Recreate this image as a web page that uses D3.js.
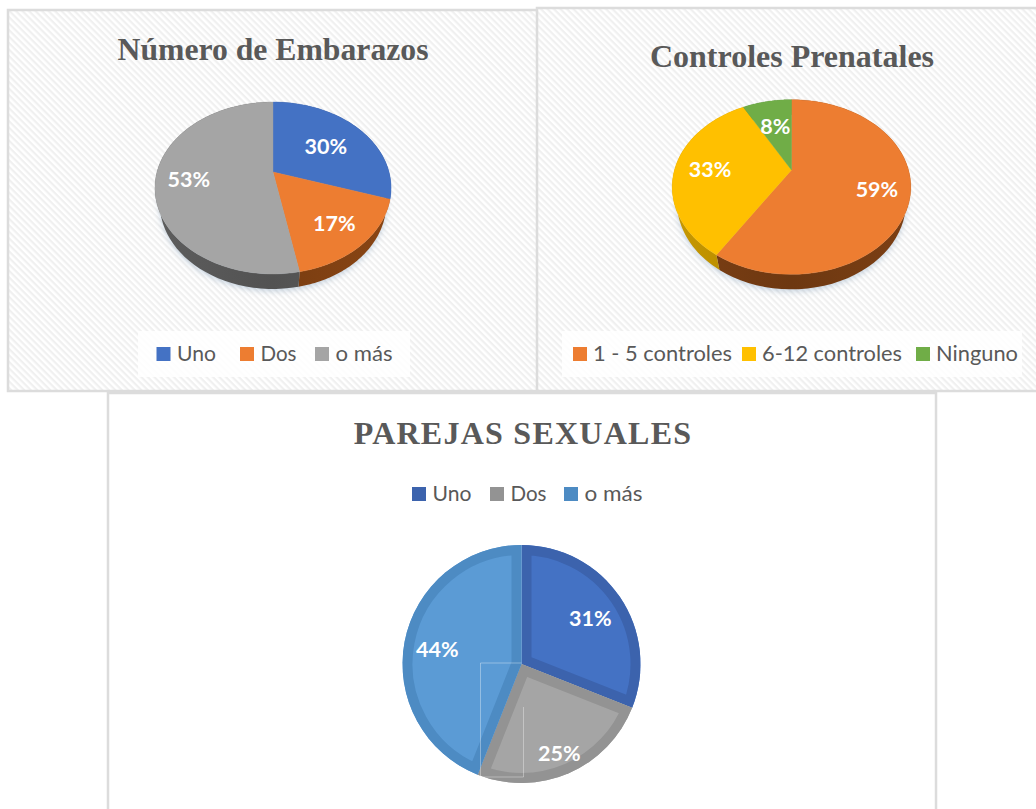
<!DOCTYPE html>
<html lang="es">
<head>
<meta charset="utf-8">
<script src="https://cdn.jsdelivr.net/npm/d3@7"></script>
<style>
html,body{margin:0;padding:0;background:#fff;overflow:hidden}
svg{display:block}
</style>
</head>
<body>
<svg id="c" width="1036" height="809"></svg>
<script>
// ---- data ----
const embarazosLabels = ["Uno", "Dos", "o más"];
const embarazosValues = [30, 17, 53];
const controlesLabels = ["1 - 5 controles", "6-12 controles", "Ninguno"];
const controlesValues = [59, 33, 8];
const parejasLabels = ["Uno", "Dos", "o más"];
const parejasValues = [31, 25, 44];

const embarazosColors = ["#4472c4", "#ed7d31", "#a5a5a5"];
const embarazosSides  = ["#2b4a80", "#7d3f12", "#555555"];
const controlesColors = ["#ed7d31", "#ffc000", "#70ad47"];
const controlesSides  = ["#713a12", "#b58a00", "#4a7a2e"];
const parejasColors   = ["#4472c4", "#a5a5a5", "#5b9bd5"];
const parejasBevels   = ["#3c63ad", "#939393", "#4d8bc3"];

const svg = d3.select("#c");
const defs = svg.append("defs");
const TAU = Math.PI * 2;

// diagonal hatch background
const hatch = defs.append("pattern").attr("id", "hatch")
  .attr("patternUnits", "userSpaceOnUse").attr("width", 4.6).attr("height", 4.6)
  .attr("patternTransform", "rotate(45)");
hatch.append("rect").attr("width", 4.6).attr("height", 4.6).attr("fill", "#ffffff");
hatch.append("rect").attr("width", 4.6).attr("height", 2.2).attr("fill", "#f0f0f0");

const blur = defs.append("filter").attr("id", "soft")
  .attr("x", "-20%").attr("y", "-20%").attr("width", "140%").attr("height", "140%");
blur.append("feGaussianBlur").attr("stdDeviation", 3);

function panel(x, y, w, h, fill) {
  svg.append("rect").attr("x", x).attr("y", y).attr("width", w).attr("height", h)
    .attr("fill", fill).attr("stroke", "#dcdcdc").attr("stroke-width", 2.5);
}

function title(text, x, y, size, spacing) {
  svg.append("text").attr("x", x).attr("y", y).attr("text-anchor", "middle")
    .attr("font-family", "'Liberation Serif', serif").attr("font-weight", 700)
    .attr("font-size", size).attr("letter-spacing", spacing || 0)
    .attr("fill", "#595959").text(text);
}

function legend(cfg) {
  if (cfg.box) {
    svg.append("rect").attr("x", cfg.box[0]).attr("y", cfg.box[1])
      .attr("width", cfg.box[2]).attr("height", cfg.box[3]).attr("fill", "#ffffff").attr("fill-opacity", 0.85);
  }
  const g = svg.append("g").selectAll("g").data(cfg.labels).join("g")
    .attr("transform", (d, i) => `translate(${cfg.xs[i]},${cfg.y})`);
  g.append("rect").attr("x", 0).attr("y", -14).attr("width", 14).attr("height", 14)
    .attr("fill", (d, i) => cfg.colors[i]);
  g.append("text").attr("x", cfg.gap).attr("y", 0)
    .attr("font-family", "Lato, sans-serif").attr("font-size", cfg.size)
    .attr("fill", "#595959")
    .attr("textLength", (d, i) => cfg.widths[i]).attr("lengthAdjust", "spacingAndGlyphs")
    .text(d => d);
}

function label(text, x, y) {
  svg.append("text").attr("x", x).attr("y", y).attr("text-anchor", "middle").attr("dy", "0.43em")
    .attr("font-family", "Lato, sans-serif").attr("font-weight", 700).attr("font-size", 21.5)
    .attr("fill", "#fff").text(text);
}

const pieGen = d3.pie().sort(null).startAngle(0).endAngle(TAU);

// perspective pie: the disc is tilted, so its centre sits above the middle of the ellipse
function pie3d(cfg) {
  const { values, colors, sides, cx, cy, sx, sy, k, depth, shrink, radii } = cfg;
  const project = (a, r = 1) => {
    const u = r * Math.sin(a), v = -r * Math.cos(a), w = 1 - k * v;
    return [cx + sx * u / w, cy + sy * v / w];
  };
  const bottom = a => {
    const p = project(a);
    return [cx + (p[0] - cx) * shrink, p[1] + depth];
  };
  const line = d3.line();
  const sweep = (a0, a1, f) => d3.range(0, 61).map(i => f(a0 + (a1 - a0) * i / 60));
  const arcs = pieGen(values);

  // soft shadow
  svg.append("path")
    .attr("d", line(sweep(0, TAU, a => { const p = bottom(a); return [p[0], p[1] + 2]; })) + "Z")
    .attr("fill", "#6f8fb0").attr("fill-opacity", 0.4).attr("filter", "url(#soft)");

  // side wall
  arcs.forEach((d, i) => {
    const grad = "g" + cfg.id + i;
    const lg = defs.append("linearGradient").attr("id", grad)
      .attr("gradientUnits", "userSpaceOnUse")
      .attr("x1", cx - sx).attr("x2", cx + sx).attr("y1", 0).attr("y2", 0);
    const base = d3.color(sides[i]);
    lg.append("stop").attr("offset", 0).attr("stop-color", base.brighter(0.25));
    lg.append("stop").attr("offset", 0.5).attr("stop-color", base.darker(0.1));
    lg.append("stop").attr("offset", 1).attr("stop-color", base.brighter(0.25));
    const pts = sweep(d.startAngle, d.endAngle, project)
      .concat(sweep(d.startAngle, d.endAngle, bottom).reverse());
    svg.append("path").attr("d", line(pts) + "Z").attr("fill", `url(#${grad})`);
  });

  // top face
  arcs.forEach((d, i) => {
    const pts = [[cx, cy]].concat(sweep(d.startAngle, d.endAngle, project));
    svg.append("path").attr("d", line(pts) + "Z").attr("fill", colors[i])
      .attr("stroke", colors[i]).attr("stroke-width", 0.4);
  });

  arcs.forEach((d, i) => {
    const p = project((d.startAngle + d.endAngle) / 2, radii[i]);
    label(d3.format(".0f")(d.value) + "%", p[0], p[1]);
  });
}

// flat pie with bevelled slices
function pieFlat(cfg) {
  const { values, colors, bevels, cx, cy, r, radii } = cfg;
  const arc = d3.arc().innerRadius(0).outerRadius(r);
  const g = svg.append("g").attr("transform", `translate(${cx},${cy})`);
  pieGen(values).forEach((d, i) => {
    const clip = "clip" + i;
    defs.append("clipPath").attr("id", clip).append("path").attr("d", arc(d));
    g.append("path").attr("d", arc(d)).attr("fill", colors[i]);
    g.append("path").attr("d", arc(d)).attr("fill", "none")
      .attr("stroke", bevels[i]).attr("stroke-width", 20)
      .attr("stroke-linejoin", "miter").attr("clip-path", `url(#${clip})`);
  });
  // faint guide lines left in the original image
  const edges = d3.path();
  edges.moveTo(cx - 41, cy + 112); edges.lineTo(cx - 41, cy - 1); edges.lineTo(cx, cy - 1);
  edges.moveTo(cx - 41, cy + 113); edges.lineTo(cx + 2, cy + 113); edges.lineTo(cx + 2, cy + 43);
  svg.append("path").attr("d", edges.toString())
    .attr("fill", "none").attr("stroke", "#ffffff").attr("stroke-opacity", 0.35).attr("stroke-width", 1);
  pieGen(values).forEach((d, i) => {
    const a = (d.startAngle + d.endAngle) / 2;
    label(d3.format(".0f")(d.value) + "%",
      cx + r * radii[i] * Math.sin(a), cy - r * radii[i] * Math.cos(a));
  });
}

// ---- panel 1 ----
panel(8, 10, 530, 381, "url(#hatch)");
title("Número de Embarazos", 273, 60, 31.7);
pie3d({ id: "a", values: embarazosValues, colors: embarazosColors, sides: embarazosSides,
  cx: 273, cy: 172, sx: 116, sy: 83, k: 0.186, depth: 15, shrink: 0.96, radii: [0.6, 0.72, 0.72] });
legend({ box: [138, 331, 272, 46], labels: embarazosLabels, colors: embarazosColors,
  xs: [156.5, 240, 315], y: 361, gap: 20.5, size: 22, widths: [39, 36, 57] });

// ---- panel 2 ----
panel(537, 8, 510, 383, "url(#hatch)");
title("Controles Prenatales", 792, 67, 32);
pie3d({ id: "b", values: controlesValues, colors: controlesColors, sides: controlesSides,
  cx: 791.5, cy: 170, sx: 117, sy: 84, k: 0.195, depth: 15, shrink: 0.96, radii: [0.73, 0.7, 0.62] });
legend({ box: [562, 331, 460, 46], labels: controlesLabels, colors: controlesColors,
  xs: [573, 742, 916], y: 361, gap: 20, size: 22, widths: [139, 140, 82] });

// ---- panel 3 ----
panel(108, 393, 828, 430, "#ffffff");
title("PAREJAS SEXUALES", 523, 444, 32, 1.25);
legend({ labels: parejasLabels, colors: parejasBevels,
  xs: [412, 490, 564], y: 501, gap: 20.5, size: 22, widths: [39, 36, 58] });
pieFlat({ values: parejasValues, colors: parejasColors, bevels: parejasBevels,
  cx: 521.5, cy: 664, r: 119, radii: [0.7, 0.8, 0.72] });
</script>
</body>
</html>
